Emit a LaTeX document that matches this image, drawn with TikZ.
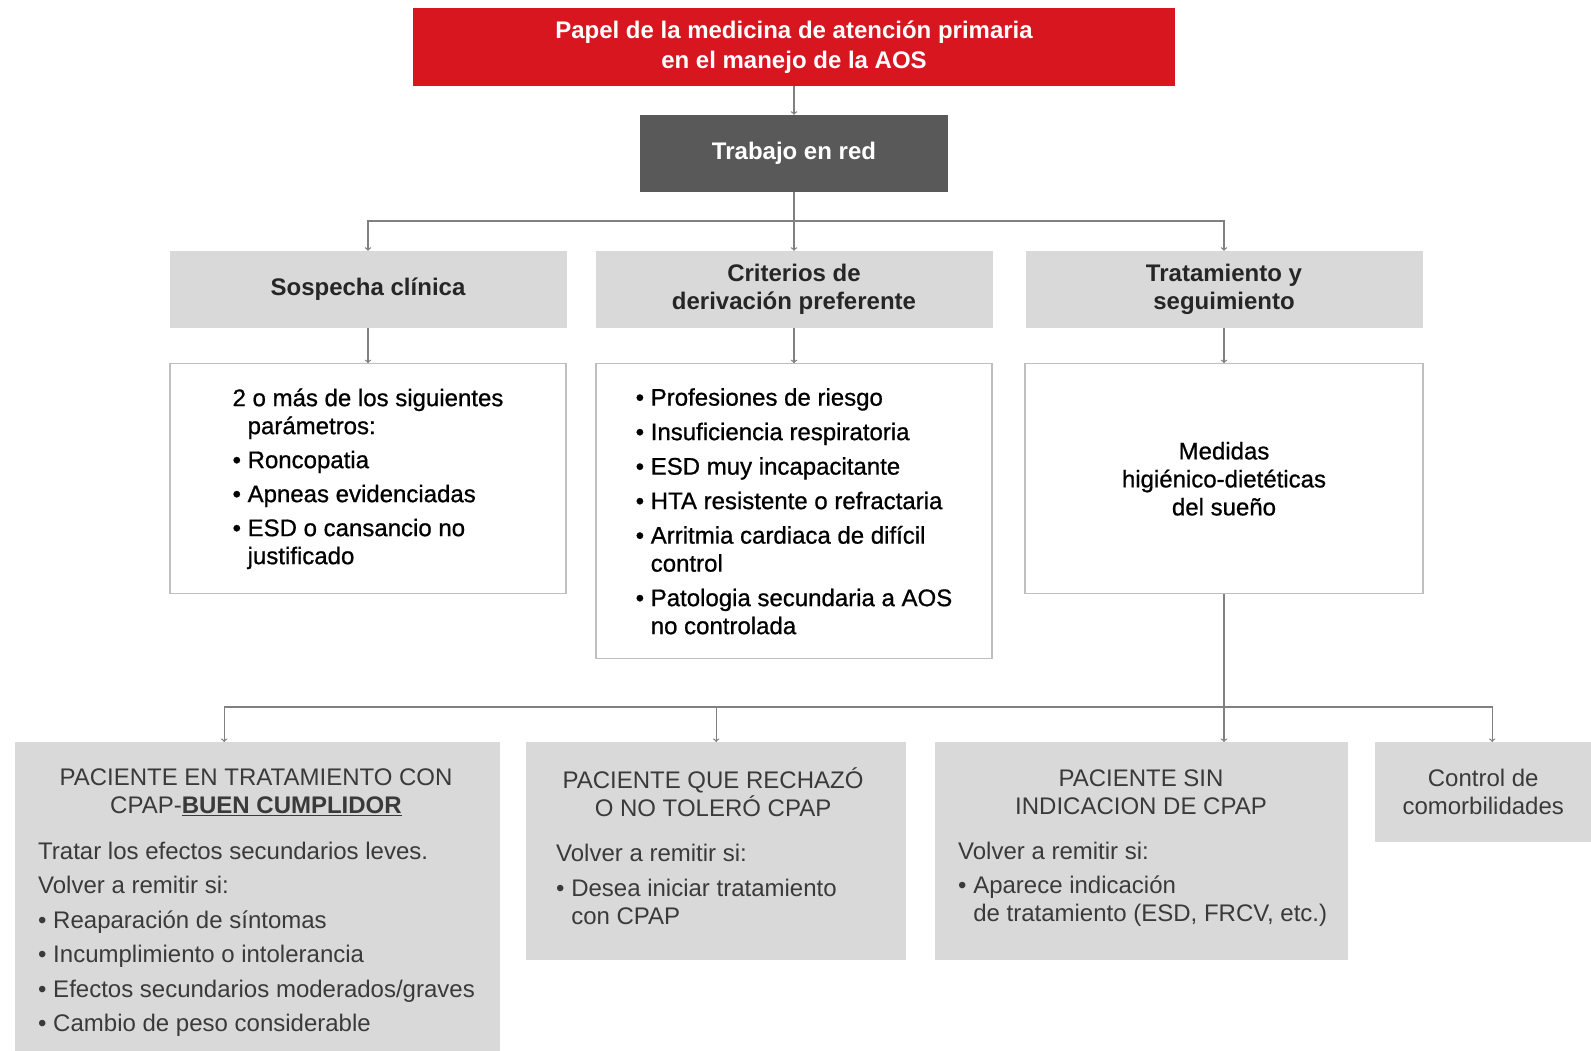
\documentclass[tikz,border=0pt]{standalone}
\usepackage{fontspec}
\setmainfont{Liberation Sans}
\newfontfamily\medsans[FakeBold=0.8]{Liberation Sans}
\usepackage{xcolor}
\usepackage{tikz}
\usetikzlibrary{positioning}

\definecolor{aosred}{HTML}{D7161F}
\definecolor{netgray}{HTML}{595959}
\definecolor{boxgray}{HTML}{D9D9D9}
\definecolor{linegray}{HTML}{808080}
\definecolor{framegray}{HTML}{BFBFBF}
\definecolor{textdark}{HTML}{262626}
\definecolor{textsoft}{HTML}{3A3A3A}

\newcommand{\bulletgap}{\phantom{• }}

\begin{document}
\begin{tikzpicture}[x=1pt,y=-1pt,
  every node/.style={font=\fontsize{24}{28.4}\selectfont, inner sep=0pt},
  conn/.style={draw=linegray, line width=1.3pt},
  titlebox/.style={fill=boxgray, text=textdark, font=\bfseries\fontsize{24}{28.4}\selectfont,
    align=center, minimum width=397pt, minimum height=77pt},
  listbox/.style={draw=framegray, line width=1.2pt, fill=white, text=black,
    font=\medsans\fontsize{24}{28}\selectfont, align=left, minimum width=396pt},
  casebox/.style={fill=boxgray, anchor=north west},
  casetitle/.style={text=textsoft, align=center},
  casetext/.style={text=textsoft, align=left, anchor=west, font=\fontsize{24}{28}\selectfont}]
\useasboundingbox (0,0) rectangle (1591,1051);
% top of the chart
  \node (papel) [fill=aosred, text=white, font=\bfseries\fontsize{24}{30.5}\selectfont, align=center,
    minimum width=762pt, minimum height=78pt] at (794,47)
    {Papel de la medicina de atención primaria\\en el manejo de la AOS};
  \node (trabajo) [fill=netgray, text=white, font=\bfseries\fontsize{24}{28}\selectfont,
    minimum width=308pt, minimum height=77pt] at (794,153.5) {Trabajo en red};
  % three branches
  \node (sospecha) [titlebox] at (368,289.5) {Sospecha clínica};
  \node (criterios) [titlebox] at (794,289.5) {Criterios de\\derivación preferente};
  \node (tratamiento) [titlebox] at (1224,289.5) {Tratamiento y\\seguimiento};
  \node (sospbox) [listbox, minimum height=230pt, below=35pt of sospecha]
    {2 o más de los siguientes\\\bulletgap parámetros:\\[6pt]• Roncopatia\\[6pt]• Apneas evidenciadas\\[6pt]• ESD o cansancio no\\\bulletgap justificado};
  \node (critbox) [listbox, minimum height=295pt, below=35pt of criterios]
    {• Profesiones de riesgo\\[6.5pt]• Insuficiencia respiratoria\\[6.5pt]• ESD muy incapacitante\\[6.5pt]• HTA resistente o refractaria\\[6.5pt]• Arritmia cardiaca de difícil\\\bulletgap control\\[6.5pt]• Patologia secundaria a AOS\\\bulletgap no controlada};
  \node (tratbox) [listbox, align=center, minimum width=398pt, minimum height=230pt, below=35pt of tratamiento]
    {Medidas\\higiénico-dietéticas\\del sueño};
% patient groups
  \node (pacbuen) [casebox, minimum width=485pt, minimum height=309pt] at (15,742) {};
  \node (pacrech) [casebox, minimum width=380pt, minimum height=218pt] at (526,742) {};
  \node (pacsin) [casebox, minimum width=413pt, minimum height=218pt] at (935,742) {};
  \node (comorb) [casebox, minimum width=216pt, minimum height=100pt, text=textsoft, align=center] at (1375,742)
    {Control de\\comorbilidades};
  \node (buentit) [casetitle] at (256,792.5) {PACIENTE EN TRATAMIENTO CON\\CPAP-\underline{\textbf{BUEN CUMPLIDOR}}};
  \node (buentxt) [casetext] at (38,939.5)
    {Tratar los efectos secundarios leves.\\[6.5pt]Volver a remitir si:\\[6.5pt]• Reaparación de síntomas\\[6.5pt]• Incumplimiento o intolerancia\\[6.5pt]• Efectos secundarios moderados/graves\\[6.5pt]• Cambio de peso considerable};
  \node (rechtit) [casetitle] at (713,792.5) {PACIENTE QUE RECHAZÓ\\O NO TOLERÓ CPAP};
  \node (rechtxt) [casetext] at (556,884.5)
    {Volver a remitir si:\\[6.5pt]• Desea iniciar tratamiento\\\bulletgap con CPAP};
  \node (sintit) [casetitle] at (1141,792.5) {PACIENTE SIN\\INDICACION DE CPAP};
  \node (sintxt) [casetext] at (958,884.5)
    {Volver a remitir si:\\[6.5pt]• Aparece indicación\\\bulletgap de tratamiento (ESD, FRCV, etc.)};
% arrows
\draw [conn,->] (papel) -- (trabajo);
\coordinate (split1) at (trabajo.south |- 0,221);
\draw [conn] (trabajo) -- (split1);
\draw [conn,->] (split1) -| (sospecha.north);
\draw [conn,->] (split1) -- (criterios.north);
\draw [conn,->] (split1) -| (tratamiento.north);
\draw [conn,->] (sospecha) -- (sospbox);
\draw [conn,->] (criterios) -- (critbox);
\draw [conn,->] (tratamiento) -- (tratbox);
\coordinate (split2) at (tratbox.south |- 0,707);
\draw [conn] (tratbox) -- (split2);
\draw [conn,->] (split2) -| ([xshift=-33.5pt]pacbuen.north);
\draw [conn,->] (split2) -| (pacrech.north);
\draw [conn,->] (split2) -- (split2 |- pacsin.north);
\draw [conn,->] (split2) -| ([xshift=9pt]comorb.north);
\end{tikzpicture}
\end{document}
